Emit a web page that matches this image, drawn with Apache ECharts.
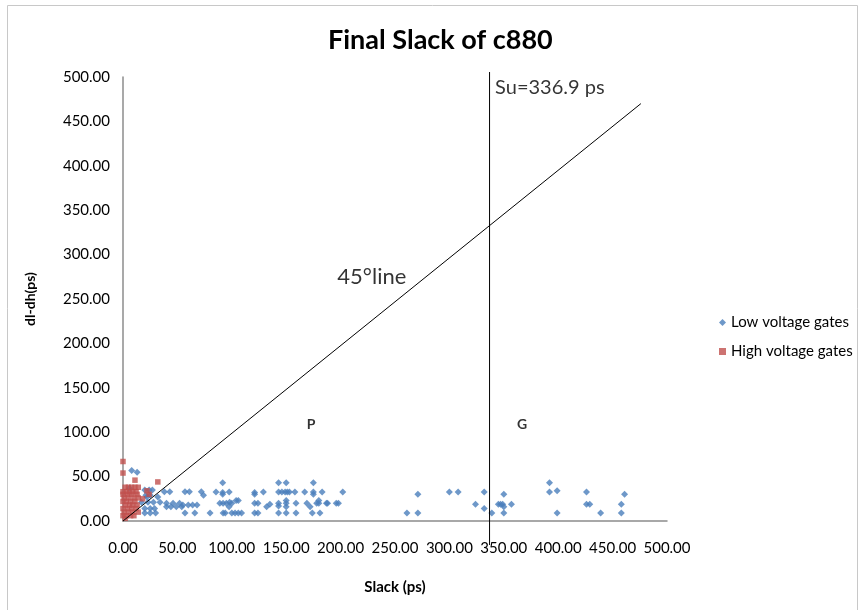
<!DOCTYPE html>
<html>
<head>
<meta charset="utf-8">
<script src="https://cdn.jsdelivr.net/npm/echarts@6/dist/echarts.min.js"></script>
<style>
  html, body { margin: 0; padding: 0; background: #fff; }
  #chart { width: 863px; height: 610px; }
</style>
</head>
<body>
<div id="chart"></div>
<script>
// Final slack per gate: [slack (ps), dl-dh (ps)]
const lowVoltageGates = [
  [8, 57], [13, 55], [6, 37], [20, 35], [24, 35], [27, 35], [38, 33], [43, 33],
  [21, 29], [25, 29], [22, 27], [32, 27], [17, 21], [23, 21], [28, 21], [34, 21],
  [20, 14], [25, 14], [29, 14], [20, 9], [25, 9], [30, 9], [40, 16], [44, 16],
  [49, 16], [54, 16], [40, 20], [46, 20], [52, 20], [57, 33], [61, 33], [55, 18],
  [60, 18], [64, 18], [68, 18], [57, 9], [66, 9], [72, 33], [74, 29], [80, 9],
  [85.5, 32.6], [91.6, 43], [91.6, 32], [91.6, 30], [89, 20], [92, 20], [95, 20],
  [97.6, 32.6], [98, 21], [100, 20], [92, 9], [94, 9], [100, 9], [103, 9], [106, 9],
  [109, 9], [104, 23], [106, 23], [97.5, 16], [121, 32], [121, 30], [129, 32.6],
  [121, 20], [124, 20], [121, 9], [124, 9], [132, 16], [135, 19], [143, 43], [150, 43],
  [143, 32.6], [146, 32.6], [149, 32.6], [151, 32.6], [153, 32.6], [143, 20], [143, 17],
  [143, 9], [150, 23], [150, 20], [150, 16], [150, 9], [158, 32.6], [159, 20], [159, 9],
  [167, 32.6], [169, 20], [175, 43], [175, 32.6], [175, 30], [172, 16], [174, 9],
  [178, 20], [180, 23], [180, 20], [181, 9], [183, 32.6], [187, 20], [188, 20],
  [196, 20], [198, 20], [202, 32.6],
  [261, 9], [271, 30], [271, 9], [300, 32.6], [308, 32.6], [324, 19], [332, 32.6],
  [332, 14], [339, 9], [345, 19], [347, 19], [349, 19], [350, 16], [350, 9], [350, 30],
  [357, 19],
  [392, 43], [392, 32.6], [399, 34], [399, 9], [426, 32.6], [426, 19], [429, 19],
  [439, 9], [458, 19], [458, 9], [461, 30]
];

const highVoltageGates = [
  [0, 67], [0, 54], [11, 46], [32, 44], [2, 38], [5, 38], [8, 38], [11, 38], [14, 38],
  [0, 33], [3, 33], [6, 33], [9, 33], [12, 33], [0, 30], [4, 30], [8, 30], [13, 30],
  [1, 26], [5, 26], [10, 26], [14, 26], [0, 22], [3, 22], [7, 22], [11, 22],
  [2, 18], [6, 18], [9, 18], [13, 18], [0, 14], [4, 14], [8, 14], [12, 14],
  [1, 10], [5, 10], [9, 10], [14, 10], [0, 6], [3, 6], [7, 6], [10, 6], [2, 3],
  [24, 30], [22, 34], [18, 25]
];

// Upper slack bound and the 45-degree reference line
const slackUpper = 336.9;
const slackLineSpan = [-27, 505.6];
const diagonal = [[0, 0], [476, 470]];

// Text annotations placed in data space: [x, y, text]
const annotations = [
  [342, 487.6, 'Su=' + slackUpper + ' ps'],
  [197, 275, '45°line'],
  [172.8, 109, 'P'],
  [366.7, 109, 'G']
];

const xTicks = { min: 0, max: 500, interval: 50 };
const yTicks = { min: 0, max: 500, interval: 50 };

const FONT = 'Lato, "Liberation Sans", sans-serif';
const chart = echarts.init(document.getElementById('chart'));

function annotationStyle(text) {
  if (text.length === 1) return { fontSize: 14, fontWeight: 'bold' };
  if (text.indexOf('Su') === 0) return { fontSize: 20, fontWeight: 'normal' };
  return { fontSize: 22, fontWeight: 'normal' };
}

chart.setOption({
  backgroundColor: '#ffffff',
  animation: false,
  textStyle: { fontFamily: FONT },
  title: {
    text: 'Final Slack of c880',
    left: 323,
    top: 22,
    textStyle: { fontFamily: FONT, fontSize: 27, fontWeight: 'bold', color: '#000' }
  },
  graphic: [{
    type: 'rect',
    shape: { x: 7.5, y: 5.5, width: 850, height: 640 },
    style: { fill: 'none', stroke: '#c8c8c8', lineWidth: 1 },
    silent: true
  }],
  legend: {
    orient: 'vertical',
    left: 714,
    top: 310,
    itemGap: 14,
    itemWidth: 7,
    itemHeight: 7,
    data: [
      { name: 'Low voltage gates', icon: 'diamond' },
      { name: 'High voltage gates', icon: 'rect' }
    ],
    textStyle: { fontFamily: FONT, fontSize: 15, color: '#000' }
  },
  grid: { left: 123, top: 77, width: 544, height: 444 },
  xAxis: {
    type: 'value',
    min: xTicks.min, max: xTicks.max, interval: xTicks.interval,
    name: 'Slack (ps)',
    nameLocation: 'middle',
    nameGap: 59,
    nameTextStyle: { fontFamily: FONT, fontSize: 15, fontWeight: 'bold', color: '#000' },
    axisLine: { show: true, onZero: false, lineStyle: { color: '#8c8c8c', width: 1.5 } },
    axisTick: { show: false },
    splitLine: { show: false },
    axisLabel: {
      margin: 20,
      fontFamily: FONT, fontSize: 15, color: '#000',
      formatter: v => v.toFixed(2)
    }
  },
  yAxis: {
    type: 'value',
    min: yTicks.min, max: yTicks.max, interval: yTicks.interval,
    name: 'dl-dh(ps)',
    nameLocation: 'middle',
    nameRotate: 90,
    nameGap: 86,
    nameTextStyle: { fontFamily: FONT, fontSize: 14, fontWeight: 'bold', color: '#000' },
    axisLine: { show: true, onZero: false, lineStyle: { color: '#8c8c8c', width: 1.5 } },
    axisTick: { show: false },
    splitLine: { show: false },
    axisLabel: {
      margin: 13,
      fontFamily: FONT, fontSize: 15, color: '#000',
      formatter: v => v.toFixed(2)
    }
  },
  series: [
    {
      name: 'Low voltage gates',
      type: 'scatter',
      symbol: 'diamond',
      symbolSize: 7,
      itemStyle: { color: '#4a7ebb' },
      data: lowVoltageGates,
      z: 3
    },
    {
      name: 'High voltage gates',
      type: 'scatter',
      symbol: 'rect',
      symbolSize: 5.5,
      itemStyle: { color: '#c0504d' },
      data: highVoltageGates,
      z: 4
    },
    {
      name: 'diagonal',
      type: 'line',
      data: diagonal,
      symbol: 'none',
      lineStyle: { color: '#000', width: 1 },
      clip: false,
      silent: true,
      z: 5
    },
    {
      name: 'slack bound',
      type: 'line',
      data: [[slackUpper, slackLineSpan[0]], [slackUpper, slackLineSpan[1]]],
      symbol: 'none',
      lineStyle: { color: '#000', width: 1 },
      clip: false,
      silent: true,
      z: 5
    },
    {
      name: 'annotations',
      type: 'scatter',
      symbolSize: 0,
      silent: true,
      clip: false,
      z: 6,
      data: annotations.map(a => {
        const st = annotationStyle(a[2]);
        return {
          value: [a[0], a[1]],
          label: {
            show: true,
            position: a[2].length === 1 ? 'inside' : 'right',
            distance: 0,
            formatter: a[2],
            fontFamily: FONT,
            fontSize: st.fontSize,
            fontWeight: st.fontWeight,
            color: '#000'
          }
        };
      })
    }
  ]
});
</script>
</body>
</html>
